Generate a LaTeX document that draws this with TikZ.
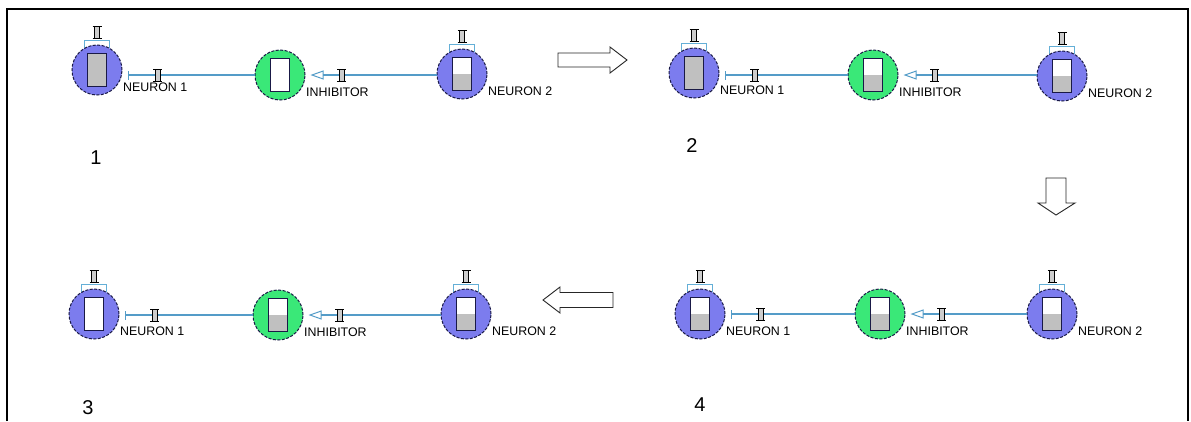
\documentclass[tikz,border=0pt]{standalone}
\usepackage{fontspec}
\setmainfont{Liberation Sans}
\usetikzlibrary{arrows.meta,calc}
\definecolor{neuronblue}{RGB}{124,124,238}
\definecolor{inhgreen}{RGB}{58,232,120}
\definecolor{outlinec}{RGB}{25,25,70}
\definecolor{cellgray}{RGB}{192,192,192}
\definecolor{wire}{RGB}{84,156,200}
\definecolor{bracketblue}{RGB}{100,175,215}
\tikzset{
  neuron/.style={circle, minimum size=50pt, inner sep=0pt, fill=neuronblue, draw=outlinec, dash pattern=on 3pt off 1.5pt, line width=1pt},
  inhib/.style={neuron, fill=inhgreen},
  lbl/.style={anchor=west, font=\fontsize{12.4}{14}\selectfont, inner sep=0pt},
  num/.style={font=\fontsize{20}{24}\selectfont, inner sep=0pt},
  wireline/.style={draw=wire, line width=1.1pt},
  bigarrow/.style={draw=black!85, line width=0.9pt, fill=white},
  cellline/.style={draw=outlinec, line width=1.3pt},
}
\newcommand\syn[1]{%
  \begin{scope}[shift={(#1)}]
    \fill[cellgray!80] (-2.5,-5.5) rectangle (2.5,5.5);
    \draw[black, line width=1pt] (-4.5,-6)--(4.5,-6) (-4.5,6)--(4.5,6) (-2.5,-6)--(-2.5,6) (2.5,-6)--(2.5,6);
  \end{scope}}
\newcommand\cellfill[1]{%
  \fill[white] (-9.5,-16.5) rectangle (9.5,16.5);
  \ifnum#1=1 \fill[cellgray] (-9.5,-16.5) rectangle (9.5,16.5);\fi
  \ifnum#1=2 \fill[cellgray] (-9.5,0) rectangle (9.5,16.5);\fi
  \draw[cellline] (-9.5,-16.5) rectangle (9.5,16.5);}
\newcommand\crown[1]{%
  \begin{scope}[shift={(#1)}]
    \draw[bracketblue, line width=1pt] (-12.5,-22)--(-12.5,-30)--(12.5,-30)--(12.5,-22);
    \syn{0,-38}
  \end{scope}}
\newcommand\unit[5]{% name, pos, style, mode, label
  \node[#3] (#1) at (#2) {};
  \begin{scope}[shift={(#2)}]\cellfill{#4}\end{scope}
  \node[lbl] (#1-l) at ($(#1)+(26,17.5)$) {#5};}
\newcommand\panel[7]{% prefix, n1 pos, inh pos, n2 pos, modes
  \crown{#2}
  \crown{#4}
  \unit{#1n1}{#2}{neuron}{#5}{NEURON 1}
  \unit{#1inh}{#3}{inhib}{#6}{INHIBITOR}
  \unit{#1n2}{#4}{neuron}{#7}{NEURON 2}
  \draw[wireline, -{Bar[width=9pt,line width=1.1pt]}, shorten >=5pt] (#1inh.west) -- (#1inh.west -| #1n1.east);
  \draw[wireline, -{Triangle[open,length=13pt,width=9pt,line width=1pt]}, shorten >=5pt] (#1n2.west |- #1inh.east) -- (#1inh.east);
  \path (#1n1.east |- #1inh.west) ++(35,0) coordinate (#1s1);
  \path (#1inh.east) ++(36,0) coordinate (#1s2);
  \syn{#1s1}
  \syn{#1s2}}
\begin{document}
\begin{tikzpicture}[x=1pt,y=-1pt]
\useasboundingbox (0,0) rectangle (1191,421);
\fill[white] (0,0) rectangle (1191,421);
\draw[black, line width=1.3pt] (7,421) -- (7,9) -- (1188,9) -- (1188,421);
\panel{a}{97,70}{280,75}{462,74}{1}{0}{2}
\panel{b}{694,73}{873,75}{1062,76}{1}{2}{2}
\panel{c}{94,314}{278,315}{466,314}{0}{2}{2}
\panel{d}{700,314}{880,314}{1052,314}{2}{2}{2}
\node[num] (l1) at (96,158) {1};
\node[num] (l2) at (692,146) {2};
\node[num] (l3) at (88,408) {3};
\node[num] (l4) at (700,405) {4};
\draw[bigarrow] (558,53)--(610,53)--(610,47)--(627,60)--(610,73)--(610,67)--(558,67)--cycle;
\draw[bigarrow] (1046,178)--(1066,178)--(1066,203)--(1075,203)--(1056,215)--(1038,203)--(1046,203)--cycle;
\draw[bigarrow] (613,292.5)--(560,292.5)--(560,287)--(543,300)--(560,313)--(560,307.5)--(613,307.5)--cycle;
\end{tikzpicture}
\end{document}
